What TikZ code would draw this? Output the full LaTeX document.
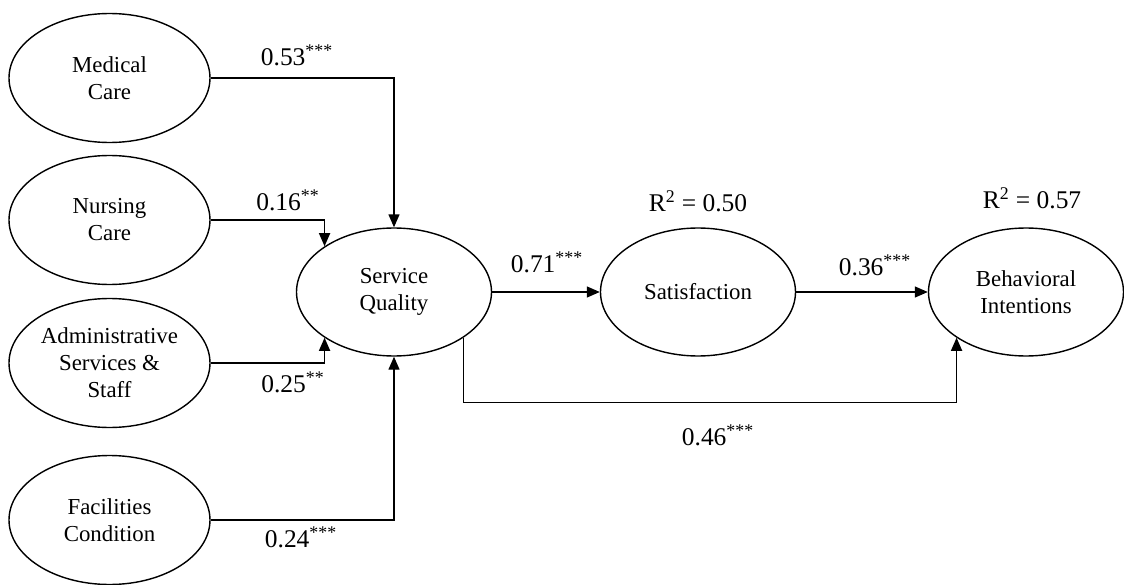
\documentclass[tikz,border=0pt]{standalone}
\usepackage{fontspec}
\setmainfont{Liberation Serif}
\usepackage{xcolor}
\usetikzlibrary{shapes.geometric, arrows.meta, positioning, calc}

\begin{document}
\begin{tikzpicture}[
    latent/.style={ellipse, draw=black, line width=0.8pt, minimum width=3.9cm, minimum height=2.56cm, align=center, font=\fontsize{13}{15.4}\selectfont, inner sep=0pt},
    side/.style={latent, minimum width=4.02cm, minimum height=2.58cm},
    arrow/.style={-{Triangle[length=0.26cm, width=0.22cm]}, line width=0.8pt},
    coef/.style={font=\fontsize{14.5}{17}\selectfont, inner sep=0pt}
]
\useasboundingbox (0,0) rectangle (22.48,11.68);
\node[side] (mc) at (2.19,10.12) {Medical\\Care};
\node[side] (nc) at (2.19,7.28) {Nursing\\Care};
\node[side] (ac) at (2.19,4.42) {Administrative\\Services \&\\Staff};
\node[side] (fc) at (2.19,1.28) {Facilities\\Condition};
\node[latent] (sq) at (7.88,5.84) {Service\\Quality};
\node[latent] (sat) at (13.96,5.84) {Satisfaction};
\node[latent] (bi) at (20.52,5.84) {Behavioral\\Intentions};
\draw[arrow] (mc.east) -| (sq.north);
\draw[arrow] (nc.east) -| (sq.north west);
\draw[arrow] (ac.east) -| (sq.south west);
\draw[arrow] (fc.east) -| (sq.south);
\draw[arrow] (sq.east) -- (sat.west);
\draw[arrow] (sat.east) -- (bi.west);
\draw[arrow] (sq.south east) -- ++(0,-1.3) -| (bi.south west);
\node[coef] (p1) at (5.94,10.58) {0.53\textsuperscript{***}};
\node[coef] (p2) at (5.76,7.68) {0.16\textsuperscript{**}};
\node[coef] (p3) at (5.86,4.04) {0.25\textsuperscript{**}};
\node[coef] (p4) at (6.02,0.94) {0.24\textsuperscript{***}};
\node[coef] (p5) at (10.94,6.44) {0.71\textsuperscript{***}};
\node[coef] (p6) at (17.5,6.38) {0.36\textsuperscript{***}};
\node[coef] (p7) at (14.36,2.98) {0.46\textsuperscript{***}};
\node[coef] (r1) at (13.96,7.66) {R\textsuperscript{2} = 0.50};
\node[coef] (r2) at (20.64,7.72) {R\textsuperscript{2} = 0.57};
\end{tikzpicture}
\end{document}
